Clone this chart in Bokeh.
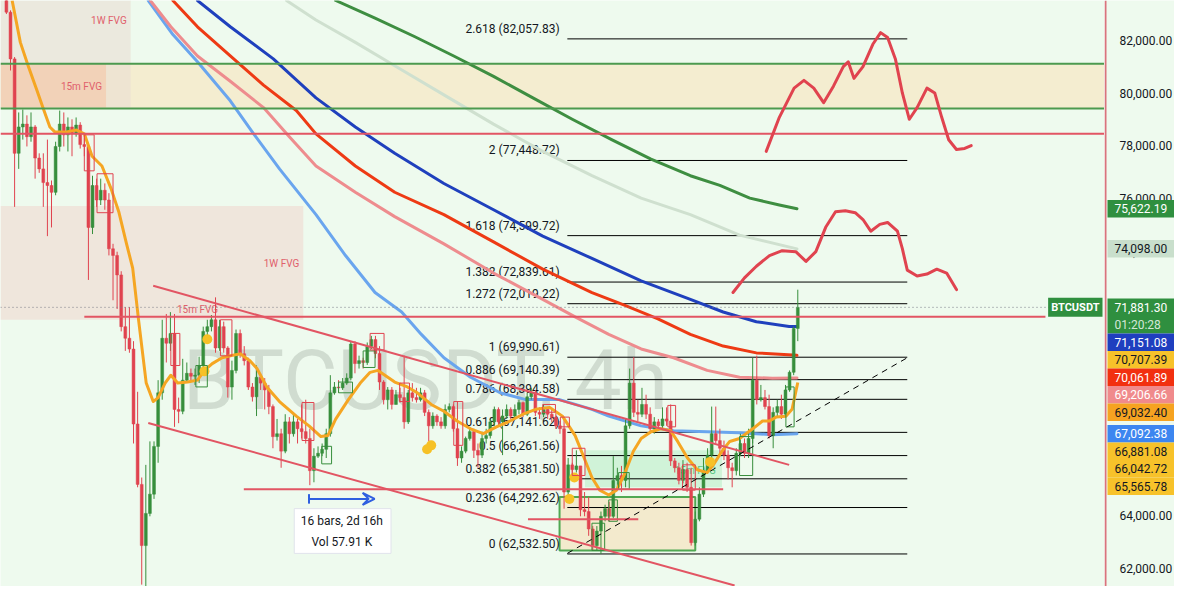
from bokeh.plotting import figure
from bokeh.layouts import row
from bokeh.models import Range1d, Label, Arrow, VeeHead, ColumnDataSource
from bokeh.core.properties import value
from bokeh.embed import file_html
from bokeh.resources import INLINE

# ---------------- data ----------------
SYMBOL = "BTCUSDT"
WATERMARK = "BTCUSDT, 4h"
COUNTDOWN = "01:20:28"

FIRST_OPEN_K = 83.70
CLOSE_K = [
    83.07, 81.30, 77.72, 78.72, 78.83, 78.35, 78.72, 77.54, 77.13, 76.61,
    76.50, 76.24, 77.98, 78.83, 78.42, 78.72, 78.46, 78.79, 78.05, 77.98,
    74.91, 76.50, 75.95, 76.32, 75.95, 74.10, 73.85, 73.11, 71.15, 70.71,
    70.30, 67.46, 65.17, 62.85, 64.07, 64.80, 66.61, 68.64, 70.71, 70.52,
    70.89, 68.01, 67.94, 69.12, 69.38, 69.27, 69.31, 69.68, 70.97, 71.15,
    71.41, 70.34, 71.15, 70.34, 68.86, 69.49, 70.89, 70.12, 69.86, 68.86,
    68.49, 69.23, 69.01, 68.75, 68.12, 66.98, 67.09, 66.43, 67.54, 67.09,
    67.54, 67.28, 67.17, 66.91, 65.69, 66.24, 66.35, 66.50, 67.09, 68.64,
    68.86, 68.83, 69.01, 69.20, 70.49, 69.75, 69.86, 69.79, 70.40, 70.66,
    70.13, 69.05, 68.38, 68.75, 68.20, 68.57, 68.46, 67.54, 68.64, 68.46,
    68.38, 68.64, 67.90, 67.39, 67.76, 67.54, 67.39, 68.01, 68.12, 67.28,
    66.17, 66.43, 66.91, 67.17, 66.46, 66.28, 66.91, 67.02, 67.54, 68.01,
    67.54, 67.76, 68.01, 67.76, 68.01, 68.27, 67.83, 68.49, 68.64, 67.90,
    67.83, 68.01, 67.83, 67.72, 67.39, 67.28, 64.88, 65.91, 65.73, 65.87,
    64.21, 64.14, 63.48, 62.85, 63.40, 63.96, 64.25, 63.96, 65.32, 65.50,
    65.32, 67.39, 69.01, 67.90, 67.83, 68.20, 67.83, 67.28, 67.54, 67.39,
    67.65, 67.57, 66.06, 65.80, 65.32, 65.73, 65.06, 62.96, 63.85, 64.80,
    65.69, 66.28, 67.09, 66.83, 66.54, 66.28, 65.80, 65.69, 66.35, 66.72,
    66.35, 66.91, 69.12, 68.38, 68.46, 68.12, 67.02, 67.90, 68.12, 67.83,
    68.75, 69.42, 71.08, 71.8813,
]
HIGH_K = [
    83.70, 83.14, 81.37, 79.27, 79.38, 79.16, 79.27, 78.79, 77.72, 77.72,
    78.24, 76.69, 78.16, 79.34, 79.27, 79.08, 79.01, 79.08, 78.90, 78.42,
    78.09, 76.87, 76.76, 76.76, 76.58, 76.21, 74.29, 73.99, 73.25, 71.89,
    71.89, 70.60, 68.68, 65.43, 65.91, 66.80, 66.80, 69.12, 71.41, 71.63,
    71.70, 71.63, 68.46, 69.93, 69.79, 69.56, 69.56, 70.01, 71.15, 71.41,
    71.59, 72.26, 71.41, 71.34, 70.41, 69.86, 71.04, 71.04, 70.41, 69.97,
    69.01, 69.68, 69.38, 69.20, 68.94, 68.20, 67.65, 67.28, 67.83, 67.72,
    67.83, 67.65, 68.20, 68.38, 67.28, 66.54, 66.61, 66.72, 67.28, 69.31,
    69.05, 69.12, 69.20, 69.38, 70.60, 70.60, 70.05, 69.97, 70.55, 70.80,
    70.80, 70.41, 69.12, 68.86, 68.86, 68.75, 68.83, 70.05, 68.75, 69.01,
    68.83, 68.83, 68.75, 68.01, 67.90, 67.83, 67.72, 68.20, 68.24, 68.20,
    68.31, 66.61, 66.98, 67.28, 67.28, 66.72, 67.17, 67.28, 67.65, 68.12,
    68.09, 68.01, 68.20, 68.09, 68.20, 68.38, 68.31, 68.64, 68.83, 68.75,
    68.09, 68.20, 68.09, 68.01, 67.87, 67.57, 67.65, 66.17, 65.99, 66.46,
    65.87, 64.88, 64.70, 63.59, 63.59, 64.14, 64.40, 64.51, 66.24, 65.80,
    65.87, 67.65, 69.56, 69.99061, 68.38, 68.83, 68.57, 68.09, 67.72, 67.65,
    68.09, 68.09, 68.20, 66.17, 65.99, 66.09, 65.99, 65.80, 64.14, 65.06,
    66.17, 66.54, 68.12, 68.12, 67.28, 66.83, 66.46, 65.99, 66.54, 67.09,
    66.91, 67.28, 69.97, 70.05, 68.94, 68.75, 68.57, 68.09, 68.38, 68.57,
    68.94, 69.49, 71.15, 72.55,
]
LOW_K = [
    83.00, 80.86, 75.69, 77.13, 78.24, 77.98, 78.16, 76.76, 76.98, 75.69,
    74.58, 74.91, 76.13, 77.79, 77.98, 77.79, 77.61, 78.35, 77.90, 77.61,
    72.92, 74.66, 75.69, 75.76, 75.58, 73.85, 72.15, 71.82, 70.97, 70.23,
    70.16, 66.72, 65.06, 61.37, 61.30, 63.96, 64.62, 65.99, 68.38, 69.79,
    70.23, 67.35, 67.49, 67.83, 69.05, 69.05, 68.94, 69.01, 69.56, 70.78,
    70.97, 70.16, 70.23, 70.16, 68.46, 68.38, 69.38, 69.97, 69.68, 68.75,
    68.31, 67.76, 68.75, 68.01, 67.83, 66.54, 66.83, 65.80, 66.35, 66.72,
    66.98, 66.72, 66.91, 66.72, 65.14, 65.25, 66.17, 66.24, 66.17, 66.98,
    68.57, 68.64, 68.75, 68.94, 69.12, 69.38, 69.56, 69.56, 69.70, 70.30,
    69.95, 68.75, 68.20, 68.01, 68.01, 68.20, 68.27, 67.28, 67.46, 68.31,
    68.27, 68.31, 67.76, 66.80, 67.28, 67.39, 67.28, 67.28, 67.90, 67.17,
    65.87, 65.99, 66.35, 66.83, 66.17, 65.80, 66.17, 66.72, 66.91, 67.39,
    67.39, 66.28, 67.65, 67.65, 67.72, 67.83, 67.72, 67.76, 68.38, 67.76,
    67.65, 67.72, 67.65, 67.54, 67.28, 67.09, 64.25, 64.69, 65.43, 65.62,
    63.96, 63.96, 63.22, 62.66, 62.66, 62.5325, 63.77, 63.77, 63.88, 65.06,
    64.88, 65.06, 67.28, 67.72, 67.57, 67.72, 67.65, 67.09, 67.09, 67.20,
    67.28, 67.39, 65.87, 65.62, 65.17, 65.21, 64.88, 62.85, 62.85, 63.77,
    64.69, 65.62, 66.17, 66.72, 66.35, 66.09, 65.36, 65.06, 65.51, 66.24,
    66.17, 66.17, 66.72, 68.20, 68.31, 68.01, 66.91, 66.54, 67.72, 67.65,
    67.72, 68.68, 69.31, 70.60,
]

# moving averages (bar index, price)
ORANGE_X = [1.4, 3.4, 5.3, 7.5, 8.9, 10.6, 11.8, 14.7, 17.1, 19.0, 20.9, 23.3, 25.5, 27.4, 29.3, 30.8, 32.2, 34.1, 35.8, 37.0, 38.7, 40.1, 41.8, 44.2, 46.6, 48.3, 50.2, 52.6, 54.6, 57.0, 59.4, 61.1, 63.5, 66.6, 70.7, 73.8, 76.7, 78.4, 80.3, 83.4, 86.3, 88.7, 90.6, 92.3, 94.7, 97.8, 100.2, 103.6, 106.7, 109.9, 113.2, 116.3, 119.5, 122.8, 126.0, 129.1, 132.5, 135.6, 138.7, 140.9, 142.8, 144.7, 146.9, 148.8, 150.7, 152.9, 154.8, 157.2, 159.6, 162.0, 163.7, 166.1, 168.5, 170.9, 172.4, 174.5, 176.4, 178.8, 182.0, 184.4, 186.1, 187.7, 190.1, 191.6, 193.0]
ORANGE_Y = [83513, 81926, 81041, 80081, 79454, 78716, 78532, 78532, 78605, 78458, 77609, 77240, 76391, 75506, 74288, 73366, 71447, 69011, 68310, 68458, 69011, 69307, 69011, 69048, 69122, 69491, 69749, 69971, 70044, 70118, 69860, 69565, 68864, 68310, 67757, 67388, 66982, 67019, 67646, 68384, 69011, 69417, 69491, 69307, 69048, 68864, 68642, 68200, 67941, 67572, 67277, 67093, 67351, 67572, 67830, 68015, 68089, 67757, 67019, 66170, 65432, 64952, 64768, 64952, 65543, 66428, 66908, 67166, 67277, 67203, 66798, 66170, 65727, 65617, 65911, 66428, 66798, 66908, 67277, 67572, 67572, 67720, 67757, 68015, 69032]
LBLUE_X = [34.6, 40.6, 46.6, 54.6, 60.3, 66.6, 75.5, 82.7, 89.9, 96.4, 101.2, 106.7, 113.2, 120.4, 126.7, 134.9, 142.8, 146.9, 154.8, 162.7, 170.9, 178.8, 186.8, 192.8]
LBLUE_Y = [83513, 82222, 81188, 79712, 78458, 77129, 75395, 73845, 72443, 71705, 70856, 69971, 69233, 68642, 68384, 68384, 68015, 67757, 67388, 67203, 67166, 67130, 67056, 67092]
PINK_X = [35.1, 40.1, 46.6, 54.6, 62.7, 69.0, 75.5, 85.1, 94.7, 106.7, 118.8, 130.8, 138.7, 146.9, 154.8, 162.7, 170.9, 178.8, 186.8, 192.8]
PINK_Y = [83513, 82517, 81410, 80450, 79454, 78347, 77240, 76244, 75321, 74288, 73181, 72185, 71520, 70856, 70303, 69971, 69491, 69233, 69196, 69207]
RED_X = [40.6, 46.6, 54.6, 62.7, 70.7, 75.5, 85.1, 94.7, 106.7, 118.8, 130.8, 142.8, 150.7, 158.9, 166.8, 174.8, 182.9, 192.8]
RED_Y = [83513, 82517, 81410, 80303, 79343, 78458, 77240, 76244, 75395, 74362, 73329, 72443, 71963, 71447, 70856, 70413, 70155, 70062]
DBLUE_X = [46.6, 54.6, 65.1, 75.5, 85.1, 94.7, 106.7, 118.8, 130.8, 142.8, 154.8, 166.8, 174.8, 182.9, 190.9, 192.8]
DBLUE_Y = [83513, 82517, 81299, 79823, 78716, 77720, 76576, 75580, 74583, 73735, 72886, 72185, 71705, 71336, 71152, 71151]
DGREEN_X = [80.3, 89.9, 99.5, 109.1, 118.8, 128.4, 138.0, 147.6, 157.2, 166.8, 174.0, 181.3, 188.5, 192.8]
DGREEN_Y = [83513, 82849, 82148, 81410, 80635, 79823, 79011, 78236, 77498, 76871, 76502, 76022, 75764, 75622]
PALE_X = [68.3, 75.5, 85.1, 94.7, 106.7, 118.8, 130.8, 142.8, 154.8, 166.8, 178.8, 192.8]
PALE_Y = [83513, 82775, 81926, 81041, 79934, 78827, 77794, 76871, 76022, 75395, 74620, 74098]

# hand-drawn projections
PROJ1_X = [185.3, 188.5, 192.1, 194.5, 196.9, 199.3, 201.7, 204.1, 205.3, 206.7, 208.9, 211.3, 213.2, 214.9, 216.8, 218.5, 220.2, 222.1, 224.5, 226.4, 228.1, 229.8, 231.7, 233.7, 235.3]
PROJ1_Y = [77794, 79085, 80192, 80487, 80192, 79639, 80266, 81004, 81188, 80561, 81004, 81853, 82295, 82111, 81299, 80008, 79011, 79454, 80192, 80008, 79085, 78236, 77867, 77904, 78015]
PROJ2_X = [177.2, 180.0, 182.9, 186.1, 189.2, 192.5, 195.0, 197.4, 199.8, 202.2, 204.6, 207.0, 208.9, 210.8, 213.0, 214.9, 217.3, 218.5, 219.7, 222.1, 224.5, 226.9, 229.3, 231.7]
PROJ2_Y = [72443, 72997, 73439, 73845, 74030, 73993, 73624, 73993, 74915, 75506, 75543, 75469, 75211, 74768, 75026, 75100, 74768, 74104, 73292, 73070, 73144, 73329, 73181, 72554]

# fibonacci
FIB_RATIOS = ["2.618", "2", "1.618", "1.382", "1.272", "1", "0.886", "0.786", "0.618", "0.5", "0.382", "0.236", "0"]
FIB_PRICES = [82057.83, 77448.72, 74599.72, 72839.61, 72019.22, 69990.61, 69140.39, 68394.58, 67141.62, 66261.56, 65381.50, 64292.62, 62532.50]

# levels / zones
GREEN_LEVELS = [81115, 79417]
RED_LEVEL_TOP = 78458
RED_LEVEL_MID = 71520
SUPPORT_1 = 64990
SUPPORT_2 = 63845
CHANNEL_UP = ([35.8, 190.9], [72701, 65910])
CHANNEL_DN = ([34.6, 177.6], [67498, 61336])
TREND = ([136.8, 219.7], [62554, 69971])

# small order-block boxes: left, right, top, bottom, kind
BOX_L = [19.0, 22.1, 40.1, 46.2, 52.2, 72.1, 76.9, 81.0, 87.0, 88.7, 95.9, 109.1, 130.8, 135.1, 138.0, 146.9, 149.3, 161.3, 164.9, 178.8, 190.1, 142.8]
BOX_R = [21.4, 26.0, 42.3, 49.0, 55.0, 75.0, 79.3, 84.4, 89.9, 92.1, 98.3, 111.3, 133.9, 137.3, 141.1, 149.0, 151.9, 163.2, 168.0, 182.0, 192.1, 145.9]
BOX_T = [78421, 76945, 70893, 69676, 71410, 68273, 66613, 69048, 70229, 70893, 69011, 68310, 68200, 67720, 66539, 64583, 65617, 68163, 65911, 66982, 68864, 63698]
BOX_B = [77056, 75469, 69676, 68864, 70044, 66834, 65948, 68642, 69602, 70266, 68310, 66650, 67904, 67351, 65506, 63771, 64989, 67351, 64952, 65506, 67351, 62665]
BOX_KIND = ["r", "r", "r", "g", "r", "r", "g", "g", "g", "r", "r", "r", "r", "r", "r", "g", "g", "r", "r", "g", "g", "g"]

DOT_X = [103.6, 102.6, 48.3, 49.0, 137.3, 138.5, 171.6]
DOT_Y = [66650, 66502, 69454, 70672, 64620, 65432, 66022]

MEASURE_START = 73.8
MEASURE_BARS = 16
MEASURE_PRICE = 64620
MEASURE_TEXT = ["16 bars, 2d 16h", "Vol 57.91 K"]

BADGE_VALUES = [75622.19, 74098.00, 71881.30, 71151.08, 70707.39, 70061.89, 69206.66, 69032.40, 67092.38, 66881.08, 66042.72, 65565.78]
BADGE_BG = ["#2f8f3f", "#c9dfcc", "#2f8f3f", "#1f3fbf", "#f7c22a", "#f2300f", "#f08a8c", "#f6a321", "#3d86f0", "#f7c22a", "#f7c22a", "#f7c22a"]
BADGE_FG = ["#ffffff", "#131722", "#ffffff", "#ffffff", "#131722", "#ffffff", "#ffffff", "#131722", "#ffffff", "#131722", "#131722", "#131722"]

PRICE_TICKS = list(range(62000, 82001, 2000))

# ---------------- figure ----------------
FONT = "Roboto"
BG = "#eefaee"
GREEN = "#378e3c"
RED = "#e0434f"
LINE_RED = "#e25563"
AXIS_W = 70
W, H = 1174 - AXIS_W, 586
X0, X1 = -1.44, 267.8
Y0, Y1 = 61299, 83513

p = figure(width=W, height=H, x_range=Range1d(X0, X1), y_range=Range1d(Y0, Y1),
           x_axis_location=None, y_axis_location=None,
           output_backend="svg", toolbar_location=None, min_border=0)
p.background_fill_color = BG
p.border_fill_color = BG
p.outline_line_color = None
p.grid.visible = False

# zones
p.quad(left=[X0], right=[X1], top=[GREEN_LEVELS[0]], bottom=[GREEN_LEVELS[1]],
       fill_color="#f4edd0", line_color=None)
p.quad(left=[X0], right=[30.3], top=[Y1], bottom=[79454], fill_color="#e9ded3",
       fill_alpha=0.6, line_color=None)
p.quad(left=[X0], right=[24.3], top=[GREEN_LEVELS[0]], bottom=[79454],
       fill_color="#f6c3a3", fill_alpha=0.55, line_color=None)
p.quad(left=[X0], right=[72.4], top=[75727], bottom=[71410], fill_color="#efe6dc",
       line_color=None)
p.quad(left=[141.1], right=[174.5], top=[66465], bottom=[65063], fill_color="#ccf2d5",
       fill_alpha=0.9, line_color=None)
p.quad(left=[134.9], right=[168.0], top=[64694], bottom=[62665], fill_color="#f3e8c9",
       fill_alpha=0.9, line_color="#4fa852", line_width=2)

zone_txt = dict(x=[25.0, 18.3, 67.1, 46.6, 168.0],
                y=[82738, 80266, 73550, 71816, 65690],
                t=["1W FVG", "15m FVG", "1W FVG", "15m FVG", "15m FVG"],
                c=["#e0606b", "#e0606b", "#e0606b", "#e0606b", "#59c784"])
p.text(x="x", y="y", text="t", text_color="c", source=ColumnDataSource(zone_txt),
       text_font=value(FONT), text_font_size="10px", text_align="center",
       text_baseline="middle")

# watermark
p.text(x=[43.0], y=[69122], text=[WATERMARK], text_font=value(FONT),
       text_font_size="84px", text_color="#8a998a", text_alpha=0.3,
       text_align="left", text_baseline="alphabetic")

# fib
fib_lbl = [f"{r} ({v:,.2f})" for r, v in zip(FIB_RATIOS, FIB_PRICES)]
n = len(FIB_PRICES)
p.segment(x0=[136.8] * n, x1=[219.7] * n, y0=FIB_PRICES, y1=FIB_PRICES,
          line_color="#000000", line_width=1)
p.text(x=[134.9] * n, y=FIB_PRICES, text=fib_lbl, text_font=value(FONT),
       text_font_size="12px", text_color="#131722", text_align="right",
       text_baseline="bottom", y_offset=-3)

# moving averages (below candles)
for xs, ys, col, w in [(PALE_X, PALE_Y, "#cfe0cf", 3), (DGREEN_X, DGREEN_Y, "#3e8e41", 3),
                       (LBLUE_X, LBLUE_Y, "#6aa5ee", 3), (PINK_X, PINK_Y, "#ee8c8e", 3),
                       (RED_X, RED_Y, "#ee3a14", 3), (DBLUE_X, DBLUE_Y, "#1f40bd", 3)]:
    p.line(xs, ys, line_color=col, line_width=w, line_join="round", line_cap="round")

# candles
opens = [FIRST_OPEN_K] + CLOSE_K[:-1]
o = [v * 1000 for v in opens]
c = [v * 1000 for v in CLOSE_K]
hi = [v * 1000 for v in HIGH_K]
lo = [v * 1000 for v in LOW_K]
bars = list(range(len(CLOSE_K)))
col = [GREEN if cc >= oo else RED for oo, cc in zip(o, c)]
src = ColumnDataSource(dict(x=bars, h=hi, l=lo, top=[max(a, b) for a, b in zip(o, c)],
                            bot=[min(a, b) for a, b in zip(o, c)], color=col))
p.segment(x0="x", x1="x", y0="l", y1="h", line_color="color", line_width=1, source=src)
p.vbar(x="x", width=0.7, top="top", bottom="bot", fill_color="color",
       line_color="color", line_width=0.5, source=src)

# orange EMA over candles
p.line(ORANGE_X, ORANGE_Y, line_color="#f5a623", line_width=3, line_join="round")

# yellow markers
p.scatter(DOT_X, DOT_Y, size=10, fill_color="#f6c126", line_color=None)

# order-block boxes
bc = [RED if k == "r" else GREEN for k in BOX_KIND]
p.quad(left=BOX_L, right=BOX_R, top=BOX_T, bottom=BOX_B, fill_color=None,
       line_color=bc, line_width=1)

# levels
for y in GREEN_LEVELS:
    p.segment(x0=[X0], x1=[X1], y0=[y], y1=[y], line_color="#4c9a4f", line_width=2)
p.segment(x0=[X0], x1=[X1], y0=[RED_LEVEL_TOP], y1=[RED_LEVEL_TOP], line_color=LINE_RED, line_width=2)
p.segment(x0=[19.0], x1=[253.4], y0=[RED_LEVEL_MID], y1=[RED_LEVEL_MID], line_color=LINE_RED, line_width=2)
p.segment(x0=[57.9], x1=[174.8], y0=[SUPPORT_1], y1=[SUPPORT_1], line_color=LINE_RED, line_width=2)
p.segment(x0=[127.2], x1=[154.1], y0=[SUPPORT_2], y1=[SUPPORT_2], line_color=LINE_RED, line_width=2)
last = CLOSE_K[-1] * 1000
p.segment(x0=[X0], x1=[X1], y0=[last], y1=[last],
          line_color="#787b86", line_width=1, line_dash="1 3")

# channel and trend
for xs, ys in (CHANNEL_UP, CHANNEL_DN):
    p.line(xs, ys, line_color=LINE_RED, line_width=2)
p.line(TREND[0], TREND[1], line_color="#000000", line_width=1, line_dash="6 5")

# projections
for xs, ys in ((PROJ1_X, PROJ1_Y), (PROJ2_X, PROJ2_Y)):
    p.line(xs, ys, line_color="#e0434f", line_width=3, line_join="round", line_cap="round")

# measurement
p.add_layout(Arrow(end=VeeHead(size=12, line_color="#2f5fe0", line_width=2, fill_color=None),
                   x_start=MEASURE_START, y_start=MEASURE_PRICE,
                   x_end=MEASURE_START + MEASURE_BARS, y_end=MEASURE_PRICE,
                   line_color="#2f5fe0", line_width=2))
p.segment(x0=[MEASURE_START], x1=[MEASURE_START], y0=[MEASURE_PRICE - 180], y1=[MEASURE_PRICE + 180],
          line_color="#2f5fe0", line_width=2)
mx = MEASURE_START + MEASURE_BARS / 2
p.quad(left=[70.2], right=[93.8], top=[64251], bottom=[62554], fill_color="#ffffff",
       line_color="#e0e3eb", line_width=1)
p.text(x=[mx, mx], y=[63771, 62997], text=MEASURE_TEXT, text_font=value(FONT),
       text_font_size="12px", text_color="#131722", text_align="center",
       text_baseline="middle")

# symbol label
p.add_layout(Label(x=X1, y=last, x_offset=-2, text=SYMBOL, text_align="right",
                   text_baseline="middle", text_font=FONT, text_font_size="11px",
                   text_font_style="bold", text_color="#ffffff",
                   background_fill_color="#2f8f3f", padding=3))

# ---------------- price scale panel ----------------
pa = figure(width=AXIS_W, height=H, x_range=Range1d(0, AXIS_W), y_range=p.y_range,
            x_axis_location=None, y_axis_location=None,
            output_backend="svg", toolbar_location=None, min_border=0)
pa.background_fill_color = BG
pa.border_fill_color = BG
pa.outline_line_color = None
pa.grid.visible = False

tick_lbl = [f"{t:,.2f}" for t in PRICE_TICKS]
pa.text(x=[15] * len(PRICE_TICKS), y=PRICE_TICKS, text=tick_lbl, text_font=value(FONT),
        text_font_size="12px", text_color="#131722", text_align="left",
        text_baseline="middle")
pa.segment(x0=[1], x1=[1], y0=[Y0], y1=[Y1], line_color="#d9737d", line_width=2)

# stacked price badges
ppp = (Y1 - Y0) / H
BH = 17.5
order = sorted(range(len(BADGE_VALUES)), key=lambda i: -BADGE_VALUES[i])
bl, br, bt, bb, bcol = [], [], [], [], []
tx, ty, tt, tc, ta = [], [], [], [], []
prev_bottom = -1e9
for i in order:
    v = BADGE_VALUES[i]
    is_last = abs(v - last) < 0.01
    lines = 2 if is_last else 1
    top = (Y1 - v) / ppp - BH / 2
    if top < prev_bottom:
        top = prev_bottom
    hgt = BH * lines
    prev_bottom = top + hgt
    bl.append(3); br.append(AXIS_W); bcol.append(BADGE_BG[i])
    bt.append(Y1 - top * ppp); bb.append(Y1 - (top + hgt) * ppp)
    tx.append(10); ty.append(Y1 - (top + BH / 2) * ppp); tt.append(f"{v:,.2f}")
    tc.append(BADGE_FG[i]); ta.append(1.0)
    if is_last:
        tx.append(10); ty.append(Y1 - (top + 1.5 * BH) * ppp); tt.append(COUNTDOWN)
        tc.append(BADGE_FG[i]); ta.append(0.8)
pa.quad(left=bl, right=br, top=bt, bottom=bb, fill_color=bcol, line_color=None)
pa.text(x=tx, y=ty, text=tt, text_color=tc, text_alpha=ta, text_font=value(FONT),
        text_font_size="12px", text_align="left", text_baseline="middle")

layout = row(p, pa)
open("out.html", "w").write(file_html(layout, INLINE))
